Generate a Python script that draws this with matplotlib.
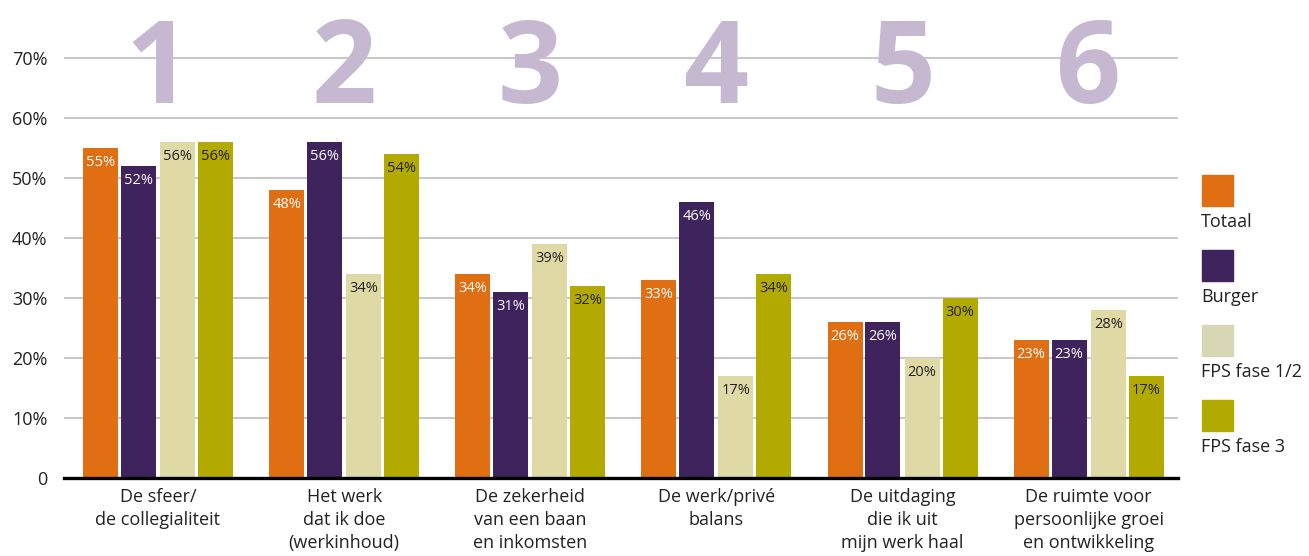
import numpy as np
import matplotlib.pyplot as plt
from matplotlib.patches import Rectangle

categories = ["De sfeer/\nde collegialiteit", "Het werk\ndat ik doe\n(werkinhoud)",
              "De zekerheid\nvan een baan\nen inkomsten", "De werk/privé\nbalans",
              "De uitdaging\ndie ik uit\nmijn werk haal", "De ruimte voor\npersoonlijke groei\nen ontwikkeling"]
series_names = ["Totaal", "Burger", "FPS fase 1/2", "FPS fase 3"]
totaal = [55, 48, 34, 33, 26, 23]
burger = [52, 56, 31, 46, 26, 23]
fps12 = [56, 34, 39, 17, 20, 28]
fps3 = [56, 54, 32, 34, 30, 17]
rank_labels = ["1", "2", "3", "4", "5", "6"]
ytick_vals = [0, 10, 20, 30, 40, 50, 60, 70]
ytick_labels = ["0", "10%", "20%", "30%", "40%", "50%", "60%", "70%"]

colors = ["#E06E12", "#3E235C", "#DFDAA5", "#B3AA00"]
legend_colors = ["#E06E12", "#3E235C", "#D7D6B5", "#B3AA00"]
label_colors = ["white", "white", "#222222", "#222222"]

plt.rcParams['font.family'] = ['Open Sans', 'DejaVu Sans']

W, H = 1309, 556
fig = plt.figure(figsize=(W / 100, H / 100), dpi=100)
ax = fig.add_axes([64 / W, (H - 478) / H, (1178 - 64) / W, 468 / H])

x = np.arange(len(categories))
offsets = [-0.309, -0.105, 0.105, 0.309]
width = 0.188
for s, vals in enumerate([totaal, burger, fps12, fps3]):
    bars = ax.bar(x + offsets[s], vals, width, color=colors[s], zorder=2)
    for b, v in zip(bars, vals):
        ax.text(b.get_x() + b.get_width() / 2, v - 1.1, f"{v}%", ha='center', va='top',
                fontsize=10.5, color=label_colors[s], zorder=3)

# grote nummers boven de groepen
for i, r in enumerate(rank_labels):
    ax.text(x[i], 62.5, r, ha='center', va='baseline', fontsize=82, fontweight='bold',
            color="#C5B8D0", zorder=1)

ax.set_xlim(-0.505, 5.48)
ax.set_ylim(0, 78)
ax.set_yticks(ytick_vals)
ax.set_yticklabels(ytick_labels, fontsize=13, color="#222222")
ax.yaxis.grid(True, color="#C8C8C8", linewidth=1.5, zorder=0)
ax.set_axisbelow(True)
ax.set_xticks(x)
ax.set_xticklabels(categories, fontsize=13, color="#222222", linespacing=1.38)
ax.tick_params(axis='both', length=0)
ax.tick_params(axis='y', pad=12)
ax.tick_params(axis='x', pad=7)
for sp in ['top', 'right', 'left']:
    ax.spines[sp].set_visible(False)
ax.spines['bottom'].set_linewidth(2.4)
ax.spines['bottom'].set_color('black')
ax.spines['bottom'].set_zorder(4)

# legenda: vierkant met tekst eronder
for i, name in enumerate(series_names):
    top = 175 + i * 75
    fig.add_artist(Rectangle((1202 / W, (H - top - 31) / H), 31 / W, 31 / H,
                             transform=fig.transFigure, color=legend_colors[i]))
    fig.text(1201 / W, (H - top - 47) / H, name, fontsize=13, color="#222222",
             ha='left', va='center')

fig.savefig("out.png", dpi=100)
